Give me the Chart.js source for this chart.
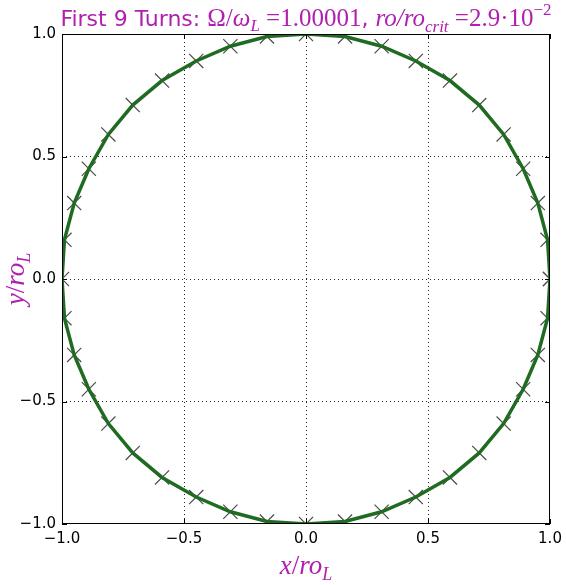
<!DOCTYPE html>
<html>
<head>
<meta charset="utf-8">
<script src="https://cdn.jsdelivr.net/npm/chart.js@4.4.1/dist/chart.umd.min.js"></script>
<style>
  html, body { margin: 0; padding: 0; background: #fff; }
  #wrap { width: 566px; height: 585px; }
</style>
</head>
<body>
<div id="wrap"><canvas id="orbit" width="566" height="585"></canvas></div>
<script>
// orbit samples (x/ro_L, y/ro_L), one marker every ~9 degrees
const xValues = [1.00, 0.99, 0.95, 0.89, 0.81, 0.71, 0.59, 0.45, 0.31, 0.16, 0.00,
  -0.16, -0.31, -0.45, -0.59, -0.71, -0.81, -0.89, -0.95, -0.99, -1.00,
  -0.99, -0.95, -0.89, -0.81, -0.71, -0.59, -0.45, -0.31, -0.16, 0.00,
  0.16, 0.31, 0.45, 0.59, 0.71, 0.81, 0.89, 0.95, 0.99, 1.00];
const yValues = [0.00, 0.16, 0.31, 0.45, 0.59, 0.71, 0.81, 0.89, 0.95, 0.99, 1.00,
  0.99, 0.95, 0.89, 0.81, 0.71, 0.59, 0.45, 0.31, 0.16, 0.00,
  -0.16, -0.31, -0.45, -0.59, -0.71, -0.81, -0.89, -0.95, -0.99, -1.00,
  -0.99, -0.95, -0.89, -0.81, -0.71, -0.59, -0.45, -0.31, -0.16, 0.00];
const tickValues = [-1.0, -0.5, 0.0, 0.5, 1.0];
const tickLabels = ['\u22121.0', '\u22120.5', '0.0', '0.5', '1.0'];

const SANS = '"DejaVu Sans"';
const SERIF = '"Liberation Serif"';
const PURPLE = '#b01fae';

const points = xValues.map((x, i) => ({ x: x, y: yValues[i] }));

// draw a run of text pieces (text, font, vertical offset) centred on cx
function drawRich(ctx, segs, cx, base) {
    let total = 0;
    segs.forEach(s => { ctx.font = s[1]; total += ctx.measureText(s[0]).width; });
    let x = cx - total / 2;
    ctx.textBaseline = 'alphabetic';
    ctx.textAlign = 'left';
    segs.forEach(s => {
        ctx.font = s[1];
        ctx.fillText(s[0], x, base + s[2]);
        x += ctx.measureText(s[0]).width;
    });
}

const frame = {
    id: 'frame',
    afterDraw(chart) {
        const ctx = chart.ctx;
        const a = chart.chartArea;
        const xs = chart.scales.x, ys = chart.scales.y;
        ctx.save();
        ctx.strokeStyle = '#000';
        ctx.lineWidth = 1;
        ctx.strokeRect(a.left + 0.5, a.top + 0.5, a.right - a.left - 1, a.bottom - a.top - 1);
        // inward tick marks on all four sides
        ctx.beginPath();
        tickValues.forEach(v => {
            const px = Math.round(xs.getPixelForValue(v)) + 0.5;
            const py = Math.round(ys.getPixelForValue(v)) + 0.5;
            ctx.moveTo(px, a.bottom); ctx.lineTo(px, a.bottom - 5);
            ctx.moveTo(px, a.top); ctx.lineTo(px, a.top + 5);
            ctx.moveTo(a.left, py); ctx.lineTo(a.left + 5, py);
            ctx.moveTo(a.right, py); ctx.lineTo(a.right - 5, py);
        });
        ctx.stroke();

        ctx.fillStyle = PURPLE;
        drawRich(ctx, [
            ['First 9 Turns: ', '22px ' + SANS, 0],
            ['\u03A9/', '25px ' + SERIF, 0],
            ['\u03C9', 'italic 25px ' + SERIF, 0],
            ['L', 'italic 17px ' + SERIF, 5],
            [' =1.00001', '25px ' + SERIF, 0],
            [', ', '22px ' + SANS, 0],
            ['ro/ro', 'italic 25px ' + SERIF, 0],
            ['crit', 'italic 17px ' + SERIF, 6],
            [' =2.9\u00B710', '25px ' + SERIF, 0],
            ['\u22122', '17px ' + SERIF, -11]
        ], (a.left + a.right) / 2, 26);

        drawRich(ctx, [
            ['x', 'italic 27px ' + SERIF, 0],
            ['/', '27px ' + SERIF, 0],
            ['ro', 'italic 27px ' + SERIF, 0],
            ['L', 'italic 18px ' + SERIF, 6]
        ], (a.left + a.right) / 2, 574);

        ctx.translate(24, (a.top + a.bottom) / 2);
        ctx.rotate(-Math.PI / 2);
        drawRich(ctx, [
            ['y', 'italic 27px ' + SERIF, 0],
            ['/', '27px ' + SERIF, 0],
            ['ro', 'italic 27px ' + SERIF, 0],
            ['L', 'italic 18px ' + SERIF, 6]
        ], 0, 0);
        ctx.restore();
    }
};

const gridColor = c => (c.tick && Math.abs(c.tick.value) === 1 ? 'rgba(0,0,0,0)' : '#222');

const axis = (pos) => ({
    type: 'linear',
    position: pos,
    min: -1,
    max: 1,
    afterBuildTicks: s => { s.ticks = tickValues.map(v => ({ value: v })); },
    afterFit: s => {
        if (pos === 'left') { s.width = 62; s.paddingTop = 0; s.paddingBottom = 0; }
        else { s.height = 61; s.paddingLeft = 0; s.paddingRight = 0; }
    },
    grid: { color: gridColor, lineWidth: 1, drawTicks: false },
    border: { display: false, dash: [1, 3] },
    ticks: {
        color: '#000',
        font: { family: 'DejaVu Sans', size: 15 },
        padding: 6,
        maxRotation: 0,
        autoSkip: false,
        callback: (v) => tickLabels[tickValues.indexOf(v)]
    }
});

new Chart(document.getElementById('orbit'), {
    type: 'scatter',
    data: {
        datasets: [
            {
                label: 'orbit',
                data: points,
                showLine: true,
                borderColor: '#1f6b21',
                borderWidth: 3.5,
                pointRadius: 0,
                fill: false,
                clip: 0,
                order: 0
            },
            {
                label: 'samples',
                data: points,
                showLine: false,
                pointStyle: 'crossRot',
                pointRadius: 10,
                borderColor: '#4a4a4a',
                borderWidth: 1.2,
                clip: 0,
                order: 1
            }
        ]
    },
    options: {
        responsive: false,
        animation: false,
        layout: { padding: { top: 34, right: 16, left: 0, bottom: 0 } },
        plugins: { legend: { display: false }, tooltip: { enabled: false }, title: { display: false } },
        scales: { x: axis('bottom'), y: axis('left') }
    },
    plugins: [frame]
});
</script>
</body>
</html>
